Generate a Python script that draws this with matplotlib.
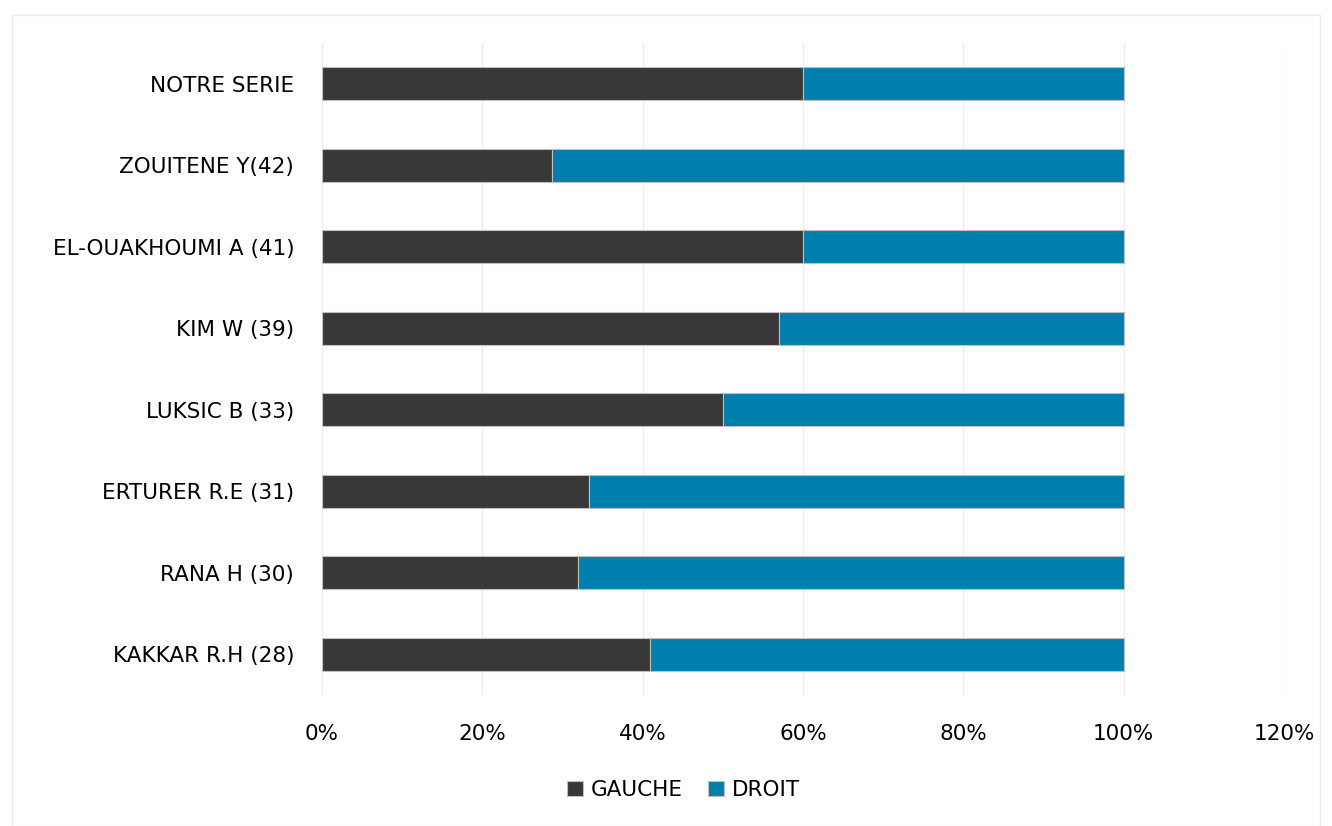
import matplotlib.pyplot as plt
from matplotlib.patches import Rectangle
from matplotlib.ticker import FuncFormatter

plt.rcParams['font.family'] = ['DejaVu Sans']

# Données (pourcentages)
auteurs = ['NOTRE SERIE', 'ZOUITENE Y(42)', 'EL-OUAKHOUMI A (41)', 'KIM W (39)',
           'LUKSIC B (33)', 'ERTURER R.E (31)', 'RANA H (30)', 'KAKKAR R.H (28)']
gauche = [60, 28.7, 60, 57, 50, 33.3, 31.9, 40.9]
droit = [100 - g for g in gauche]

couleur_gauche = '#383838'
couleur_droit = '#007FAF'

fig = plt.figure(figsize=(13.32, 8.26), dpi=100)
ax = fig.add_axes([322 / 1332, 1 - 695 / 826, (1284 - 322) / 1332, (695 - 43) / 826])

# cadre léger autour du graphique
fig.patches.append(Rectangle((12 / 1332, 0), 1 - 24 / 1332, 1 - 15 / 826,
                             transform=fig.transFigure, fill=False,
                             edgecolor='#EBEBEB', linewidth=1))

y = list(range(len(auteurs)))
ax.barh(y, gauche, height=0.4, color=couleur_gauche, edgecolor='#BFBFBF',
        linewidth=0.8, label='GAUCHE', zorder=3)
ax.barh(y, droit, left=gauche, height=0.4, color=couleur_droit,
        edgecolor='#BFBFBF', linewidth=0.8, label='DROIT', zorder=3)

ax.set_yticks(y)
ax.set_yticklabels(auteurs, fontsize=15.5)
ax.set_ylim(len(auteurs) - 0.5, -0.5)
ax.set_xlim(0, 120)
ax.set_xticks(range(0, 121, 20))
ax.xaxis.set_major_formatter(FuncFormatter(lambda v, p: f'{int(v)}%'))
ax.tick_params(axis='x', labelsize=15.5, length=0, pad=21)
ax.tick_params(axis='y', length=0, pad=20)
ax.grid(axis='x', color='#EDEDED', linewidth=1, zorder=0)
for s in ax.spines.values():
    s.set_visible(False)

fig.legend(loc='center', bbox_to_anchor=(683.5 / 1332, 1 - 790 / 826), ncol=2,
           frameon=False, fontsize=15.5, handlelength=0.75, handleheight=0.75,
           handletextpad=0.37, columnspacing=1.15)

plt.savefig('out.png', dpi=100)
